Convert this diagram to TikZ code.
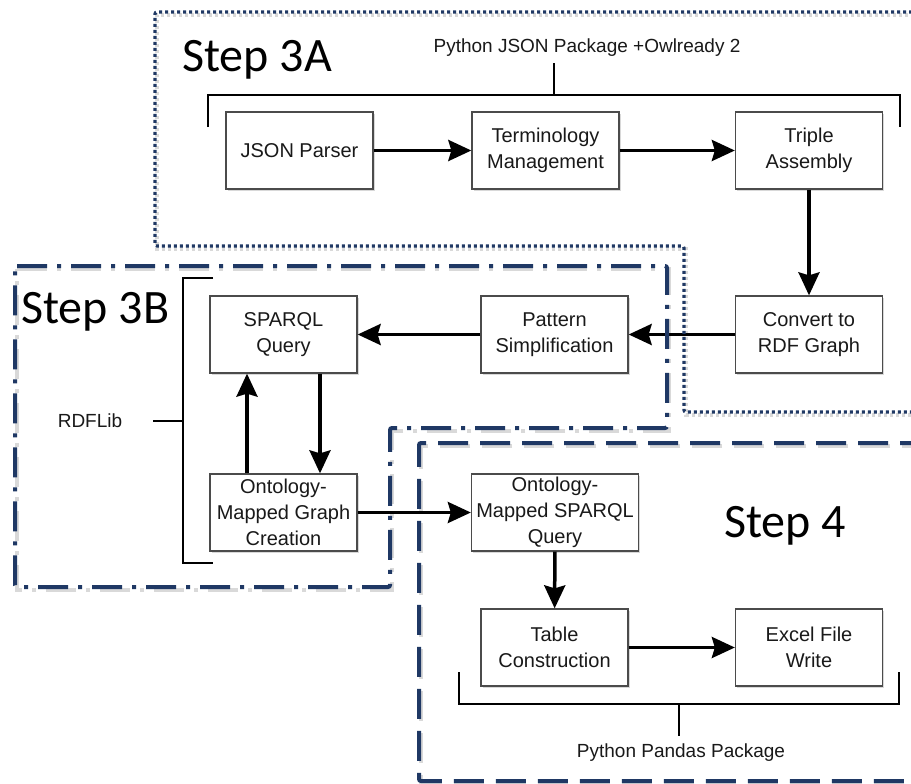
\documentclass[tikz,border=0pt]{standalone}
\usepackage{fontspec}
\setmainfont{Liberation Sans}
\newfontfamily\stepfont{Carlito}
\usetikzlibrary{arrows.meta,shadows}
\definecolor{navy}{RGB}{31,56,100}
\definecolor{boxline}{RGB}{75,75,75}
\definecolor{txt}{RGB}{25,25,25}
\begin{document}
\begin{tikzpicture}[x=1pt,y=-1pt,
  blk/.style={draw=boxline, line width=1.3pt, fill=white, minimum width=147pt, minimum height=77pt,
    align=center, inner sep=2pt, font=\fontsize{20}{26}\selectfont, text=txt,
    drop shadow={shadow xshift=1.5pt, shadow yshift=-1.5pt, opacity=0.25, fill=black!60}},
  arr/.style={line width=3.5pt, -{Stealth[length=23pt,width=21pt,inset=3pt]}},
  brk/.style={line width=2pt, black},
  lbl/.style={font=\fontsize{19}{23}\selectfont, text=txt, inner sep=0pt},
  steplbl/.style={font=\stepfont\fontsize{48}{56}\selectfont, text=black, inner sep=0pt, anchor=base west},
  fshadow/.style={draw=black, opacity=0.15, line width=4.5pt},
  dotA/.style={draw=navy, line width=3.2pt, dash pattern=on 3pt off 3pt, rounded corners=2pt},
  dashdotB/.style={draw=navy, line width=4pt, dash pattern=on 30pt off 10pt on 4pt off 10pt, rounded corners=2pt},
  dashC/.style={draw=navy, line width=4pt, dash pattern=on 30pt off 12pt, rounded corners=2pt}
]
\useasboundingbox (0,0) rectangle (911,784);
\fill[white] (0,0) rectangle (911,784);

% boxes
\node[blk] (json)    at (299.5,150.5) {JSON Parser};
\node[blk] (term)    at (545.5,150.5) {Terminology\\Management};
\node[blk] (triple)  at (809,150.5) {Triple\\Assembly};
\node[blk] (convert) at (809,334.5) {Convert to\\RDF Graph};
\node[blk] (pattern) at (554.5,334.5) {Pattern\\Simplification};
\node[blk] (sparql)  at (283.5,334.5) {SPARQL\\Query};
\node[blk] (ograph)  at (283.5,512.5) {Ontology-\\Mapped Graph\\Creation};
\node[blk, minimum width=167pt] (osparql) at (555,512.5) {Ontology-\\Mapped SPARQL\\Query};
\node[blk] (table)   at (554.5,647.5) {Table\\Construction};
\node[blk] (excel)   at (809,647.5) {Excel File\\Write};

% arrows
\draw[arr] (json) -- (term);
\draw[arr] (term) -- (triple);
\draw[arr] (triple) -- (convert);
\draw[arr] (convert) -- (pattern);
\draw[arr] (pattern) -- (sparql);
\draw[arr] ([xshift=36.5pt]sparql.south) -- ([xshift=36.5pt]ograph.north);
\draw[arr] ([xshift=-36.5pt]ograph.north) -- ([xshift=-36.5pt]sparql.south);
\draw[arr] (ograph) -- (osparql);
\draw[arr] (osparql) -- (table);
\draw[arr] (table) -- (excel);

% labels
\node[lbl] (jsonlbl) at (587,48) {Python JSON Package +Owlready 2};
\node[lbl] (rdflbl) at (90,421) {RDFLib};
\node[lbl] (pandlbl) at (681,753) {Python Pandas Package};

% brackets
\coordinate (tA1) at (208,127);
\coordinate (tA2) at (208,95);
\coordinate (tA3) at (900,95);
\coordinate (tA4) at (900,127);
\coordinate (tAs) at (554,95);
\coordinate (tAe) at (554,63);
\draw[brk] (tA1) -- (tA2) -- (tA3) -- (tA4);
\draw[brk] (tAs) -- (tAe);

\coordinate (lB1) at (213,278);
\coordinate (lB2) at (183,278);
\coordinate (lB3) at (183,563);
\coordinate (lB4) at (213,563);
\coordinate (lBs) at (183,421);
\coordinate (lBe) at (153,421);
\draw[brk] (lB1) -- (lB2) -- (lB3) -- (lB4);
\draw[brk] (lBs) -- (lBe);

\coordinate (bC1) at (459,672);
\coordinate (bC2) at (459,704);
\coordinate (bC3) at (899,704);
\coordinate (bC4) at (899,672);
\coordinate (bCs) at (679,704);
\coordinate (bCe) at (679,736);
\draw[brk] (bC1) -- (bC2) -- (bC3) -- (bC4);
\draw[brk] (bCs) -- (bCe);

% step frames
\def\frameA{(930,12) -- (155,12) -- (155,246) -- (684,246) -- (684,412) -- (930,412)}
\def\frameB{(15,266) -- (667,266) -- (667,428) -- (390,428) -- (390,587) -- (15,587) -- cycle}
\def\frameC{(930,443) -- (419,443) -- (419,781) -- (930,781)}
\draw[fshadow, dash pattern=on 3pt off 3pt, shift={(2,3)}] \frameA;
\draw[fshadow, dash pattern=on 30pt off 10pt on 4pt off 10pt, shift={(2,3)}] \frameB;
\draw[fshadow, dash pattern=on 30pt off 12pt, shift={(2,3)}] \frameC;
\draw[dotA] \frameA;
\draw[dashdotB] \frameB;
\draw[dashC] \frameC;

% step titles
\node[steplbl] (s3a) at (182,72) {Step 3A};
\node[steplbl] (s3b) at (21,323) {Step 3B};
\node[steplbl] (s4) at (724,537) {Step 4};
\end{tikzpicture}
\end{document}
